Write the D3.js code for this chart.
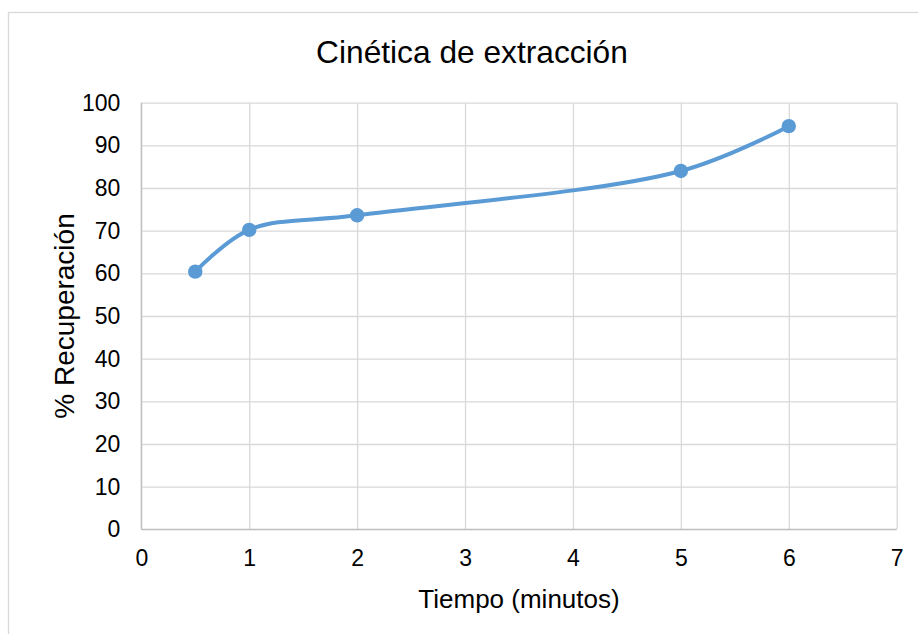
<!DOCTYPE html>
<html>
<head>
<meta charset="utf-8">
<script src="https://cdn.jsdelivr.net/npm/d3@7"></script>
<style>
  html, body { margin: 0; padding: 0; background: #ffffff; }
  svg { display: block; font-family: "Liberation Sans", Arial, sans-serif; }
</style>
</head>
<body>
<svg id="chart" width="918" height="634"></svg>
<script>
// Extraction kinetics: recovery (%) against time (minutes)
const timeMinutes = [0.5, 1, 2, 5, 6];
const recoveryPct = [60.4, 70.2, 73.6, 84.0, 94.5];
const xTicks = [0, 1, 2, 3, 4, 5, 6, 7];
const yTicks = [0, 10, 20, 30, 40, 50, 60, 70, 80, 90, 100];

const chartTitle = "Cinética de extracción";
const xTitle = "Tiempo (minutos)";
const yTitle = "% Recuperación";

const svg = d3.select("#chart");
const W = 918, H = 634;
const plot = { left: 141.3, right: 896.7, top: 102.7, bottom: 529.3 };

// chart frame
svg.append("rect")
  .attr("x", 8.5).attr("y", 12.5)
  .attr("width", W + 20).attr("height", H + 20)
  .attr("fill", "#ffffff")
  .attr("stroke", "#d9d9d9").attr("stroke-width", 1.3);

const x = d3.scaleLinear().domain([0, 7]).range([plot.left, plot.right]);
const y = d3.scaleLinear().domain([0, 100]).range([plot.bottom, plot.top]);

// horizontal gridlines
svg.append("g")
  .attr("transform", `translate(${plot.left},0)`)
  .call(d3.axisLeft(y).tickValues(yTicks).tickSize(-(plot.right - plot.left)).tickFormat(""))
  .call(g => g.select(".domain").remove())
  .call(g => g.selectAll("line").attr("stroke", "#d9d9d9").attr("stroke-width", 1.3));

// vertical gridlines
svg.append("g")
  .attr("transform", `translate(0,${plot.bottom})`)
  .call(d3.axisBottom(x).tickValues(xTicks).tickSize(-(plot.bottom - plot.top)).tickFormat(""))
  .call(g => g.select(".domain").remove())
  .call(g => g.selectAll("line").attr("stroke", "#d9d9d9").attr("stroke-width", 1.3));

// axis lines
svg.append("line")
  .attr("x1", plot.left).attr("x2", plot.left)
  .attr("y1", plot.top).attr("y2", plot.bottom)
  .attr("stroke", "#bfbfbf").attr("stroke-width", 1.3);
svg.append("line")
  .attr("x1", plot.left).attr("x2", plot.right)
  .attr("y1", plot.bottom).attr("y2", plot.bottom)
  .attr("stroke", "#bfbfbf").attr("stroke-width", 1.3);

// y tick labels
svg.append("g")
  .attr("transform", `translate(${plot.left},0)`)
  .call(d3.axisLeft(y).tickValues(yTicks).tickSize(0).tickPadding(21))
  .call(g => g.select(".domain").remove())
  .call(g => g.selectAll("text")
    .attr("font-family", "Liberation Sans, Arial, sans-serif")
    .attr("font-size", 23).attr("fill", "#000000"));

// x tick labels
svg.append("g")
  .attr("transform", `translate(0,${plot.bottom})`)
  .call(d3.axisBottom(x).tickValues(xTicks).tickSize(0).tickPadding(20).tickFormat(d3.format("d")))
  .call(g => g.select(".domain").remove())
  .call(g => g.selectAll("text")
    .attr("font-family", "Liberation Sans, Arial, sans-serif")
    .attr("font-size", 23).attr("fill", "#000000"));

// smoothed series line
const pts = timeMinutes.map((t, i) => [t, recoveryPct[i]]);
svg.append("path")
  .datum(pts)
  .attr("fill", "none")
  .attr("stroke", "#5b9bd5")
  .attr("stroke-width", 4)
  .attr("stroke-linecap", "round")
  .attr("d", d3.line().x(d => x(d[0])).y(d => y(d[1])).curve(d3.curveCatmullRom.alpha(0.5)));

// markers
svg.append("g").selectAll("circle")
  .data(pts).join("circle")
  .attr("cx", d => x(d[0])).attr("cy", d => y(d[1]))
  .attr("r", 7.2)
  .attr("fill", "#5b9bd5");

// titles
svg.append("text")
  .attr("x", 472).attr("y", 63)
  .attr("text-anchor", "middle")
  .attr("font-size", 31.7).attr("fill", "#000000")
  .text(chartTitle);

svg.append("text")
  .attr("x", (plot.left + plot.right) / 2).attr("y", 608)
  .attr("text-anchor", "middle")
  .attr("font-size", 26).attr("fill", "#000000")
  .text(xTitle);

svg.append("text")
  .attr("transform", `translate(74,${(plot.top + plot.bottom) / 2}) rotate(-90)`)
  .attr("text-anchor", "middle")
  .attr("font-size", 28).attr("fill", "#000000")
  .text(yTitle);
</script>
</body>
</html>
